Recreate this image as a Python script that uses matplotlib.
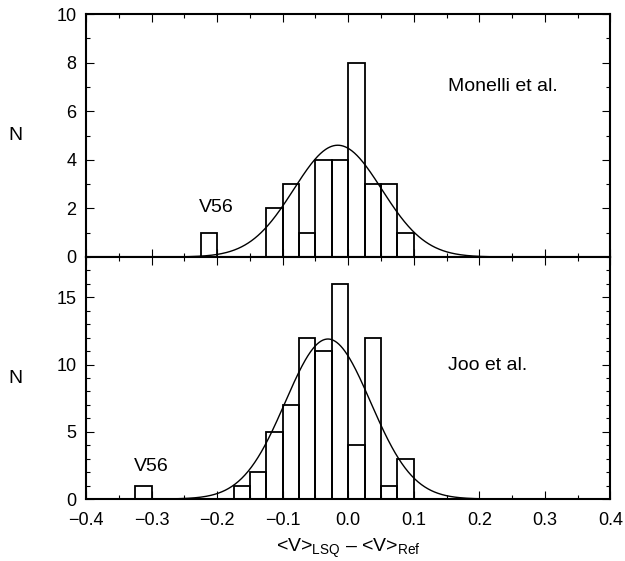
import numpy as np
import matplotlib
matplotlib.use("Agg")
import matplotlib.pyplot as plt
from matplotlib.ticker import MultipleLocator

plt.rcParams['font.family'] = ['Liberation Sans', 'DejaVu Sans']
plt.rcParams['mathtext.fontset'] = 'custom'
plt.rcParams['mathtext.rm'] = 'Liberation Sans'
plt.rcParams['mathtext.it'] = 'Liberation Sans'
plt.rcParams['font.size'] = 13

bin_width = 0.025

# Monelli et al. (bin left edges and counts)
monelli_left = [-0.225, -0.125, -0.1, -0.075, -0.05, -0.025, 0.0, 0.025, 0.05, 0.075]
monelli_counts = [1, 2, 3, 1, 4, 4, 8, 3, 3, 1]
monelli_fit = (4.6, -0.016, 0.067)  # amplitude, mean, sigma

# Joo et al.
joo_left = [-0.325, -0.175, -0.15, -0.125, -0.1, -0.075, -0.05, -0.025, 0.0, 0.025, 0.05, 0.075]
joo_counts = [1, 1, 2, 5, 7, 12, 11, 16, 4, 12, 1, 3]
joo_fit = (11.9, -0.031, 0.065)

xtick_vals = [-0.4, -0.3, -0.2, -0.1, 0.0, 0.1, 0.2, 0.3, 0.4]
xtick_labels = ["\u22120.4", "\u22120.3", "\u22120.2", "\u22120.1", "0.0",
                "0.1", "0.2", "0.3", "0.4"]


def gauss(x, amp, mu, sig):
    return amp * np.exp(-0.5 * ((x - mu) / sig) ** 2)


fig = plt.figure(figsize=(6.25, 5.61), dpi=100)
ax1 = fig.add_axes([0.1376, 0.5419, 0.8392, 0.4331])
ax2 = fig.add_axes([0.1376, 0.1105, 0.8392, 0.4314])

xx = np.linspace(-0.4, 0.4, 800)

panels = [
    (ax1, monelli_left, monelli_counts, monelli_fit, 10, [0, 2, 4, 6, 8, 10],
     "Monelli et al.", 7.0, (-0.202, 2.05)),
    (ax2, joo_left, joo_counts, joo_fit, 18, [0, 5, 10, 15],
     "Joo et al.", 9.9, (-0.301, 2.45)),
]

for ax, left, counts, fit, ymax, yticks, label, label_y, v56 in panels:
    ax.bar(left, counts, width=bin_width, align='edge', fill=False,
           edgecolor='black', linewidth=1.3)
    ax.plot(xx, gauss(xx, *fit), color='black', linewidth=1.0)
    ax.set_xlim(-0.4, 0.4)
    ax.set_ylim(0, ymax)
    ax.set_xticks(xtick_vals)
    ax.xaxis.set_minor_locator(MultipleLocator(0.05))
    ax.set_yticks(yticks)
    ax.yaxis.set_minor_locator(MultipleLocator(1))
    ax.tick_params(which='both', direction='in', top=True, right=True, width=0.8)
    ax.tick_params(which='major', length=6, labelsize=13)
    ax.tick_params(axis='y', which='major', pad=7)
    ax.tick_params(axis='x', which='major', pad=9)
    ax.tick_params(which='minor', length=3)
    for sp in ax.spines.values():
        sp.set_linewidth(1.5)
    ax.text(0.152, label_y, label, fontsize=14, va='center')
    ax.text(v56[0], v56[1], "V56", fontsize=14, ha='center', va='center')
    ax.set_ylabel("N", rotation=0, fontsize=14, va='center', ha='center')
    ax.yaxis.set_label_coords(-0.134, 0.5)

ax1.tick_params(labelbottom=False)
ax2.set_xticklabels(xtick_labels)
ax2.set_xlabel("<V>$_{\\rm LSQ}$ \u2013 <V>$_{\\rm Ref}$", fontsize=14, labelpad=6)

fig.savefig("out.png", dpi=100)
